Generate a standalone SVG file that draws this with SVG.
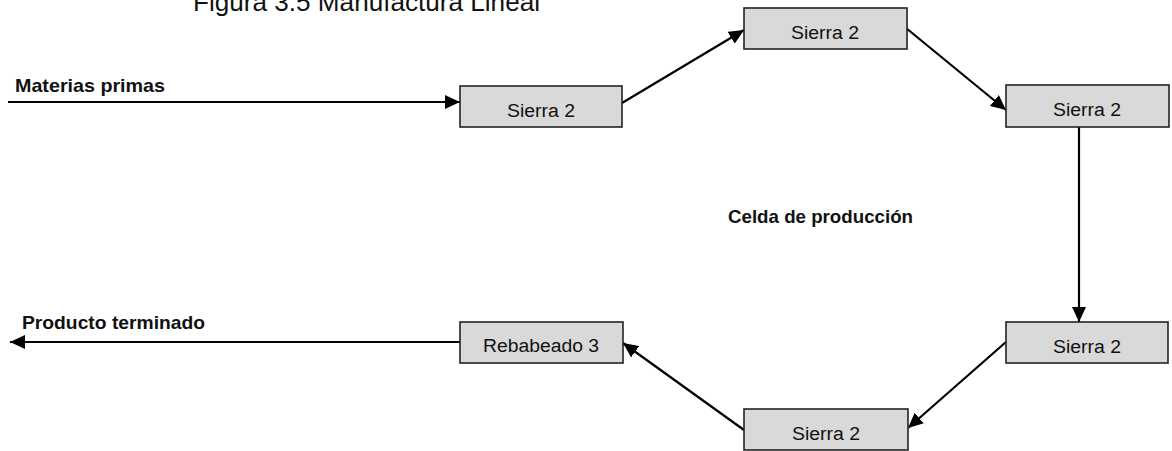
<svg xmlns="http://www.w3.org/2000/svg" width="1172" height="451" viewBox="0 0 1172 451">
  <style>
    .box { fill: #d9d9d9; stroke: #222222; stroke-width: 1.6; }
    .lbl { font-family: "Liberation Sans", Arial, sans-serif; font-size: 18px; fill: #111111; text-anchor: middle; }
    .bold { font-family: "Liberation Sans", Arial, sans-serif; font-weight: bold; font-size: 19px; fill: #111111; }
    .title { font-family: "Liberation Sans", Arial, sans-serif; font-size: 26px; fill: #111111; }
    .conn { fill: none; stroke: #000000; stroke-width: 2.2; }
  </style>
  <defs>
    <marker id="arrow" markerUnits="userSpaceOnUse" markerWidth="16" markerHeight="14" refX="15" refY="7" orient="auto">
      <path d="M0,0 L15,7 L0,14 z" fill="#000000"/>
    </marker>
  </defs>
  <rect width="1172" height="451" fill="#ffffff"/>

  <text class="title" x="193" y="11" textLength="347" lengthAdjust="spacingAndGlyphs">Figura 3.5 Manufactura Lineal</text>

  <g id="connectors">
    <line class="conn" x1="8" y1="102" x2="460" y2="102" marker-end="url(#arrow)"/>
    <line class="conn" x1="622" y1="103" x2="744" y2="30" marker-end="url(#arrow)"/>
    <line class="conn" x1="906" y1="28" x2="1006" y2="110" marker-end="url(#arrow)"/>
    <line class="conn" x1="1079" y1="127" x2="1079" y2="322" marker-end="url(#arrow)"/>
    <line class="conn" x1="1006" y1="342" x2="908" y2="428" marker-end="url(#arrow)"/>
    <line class="conn" x1="744" y1="430" x2="623" y2="343" marker-end="url(#arrow)"/>
    <line class="conn" x1="460" y1="342" x2="10" y2="342" marker-end="url(#arrow)"/>
  </g>

  <g id="materias-label">
    <text class="bold" x="15" y="92" textLength="150" lengthAdjust="spacingAndGlyphs">Materias primas</text>
  </g>
  <g id="producto-label">
    <text class="bold" x="22" y="329" textLength="183" lengthAdjust="spacingAndGlyphs">Producto terminado</text>
  </g>
  <g id="celda-label">
    <text class="bold" x="728" y="223" font-size="18" textLength="185" lengthAdjust="spacingAndGlyphs">Celda de producción</text>
  </g>

  <g id="sierra-1">
    <rect class="box" x="460" y="86" width="162" height="41"/>
    <text class="lbl" x="541" y="117" textLength="68" lengthAdjust="spacingAndGlyphs">Sierra 2</text>
  </g>
  <g id="sierra-2">
    <rect class="box" x="744" y="8" width="163" height="41"/>
    <text class="lbl" x="825" y="39" textLength="68" lengthAdjust="spacingAndGlyphs">Sierra 2</text>
  </g>
  <g id="sierra-3">
    <rect class="box" x="1006" y="85" width="163" height="42"/>
    <text class="lbl" x="1087" y="116" textLength="68" lengthAdjust="spacingAndGlyphs">Sierra 2</text>
  </g>
  <g id="sierra-4">
    <rect class="box" x="1006" y="322" width="162" height="41"/>
    <text class="lbl" x="1087" y="353" textLength="68" lengthAdjust="spacingAndGlyphs">Sierra 2</text>
  </g>
  <g id="sierra-5">
    <rect class="box" x="744" y="409" width="164" height="41"/>
    <text class="lbl" x="826" y="440" textLength="68" lengthAdjust="spacingAndGlyphs">Sierra 2</text>
  </g>
  <g id="rebabeado">
    <rect class="box" x="460" y="322" width="163" height="41"/>
    <text class="lbl" x="541" y="352" textLength="116" lengthAdjust="spacingAndGlyphs">Rebabeado 3</text>
  </g>
</svg>
